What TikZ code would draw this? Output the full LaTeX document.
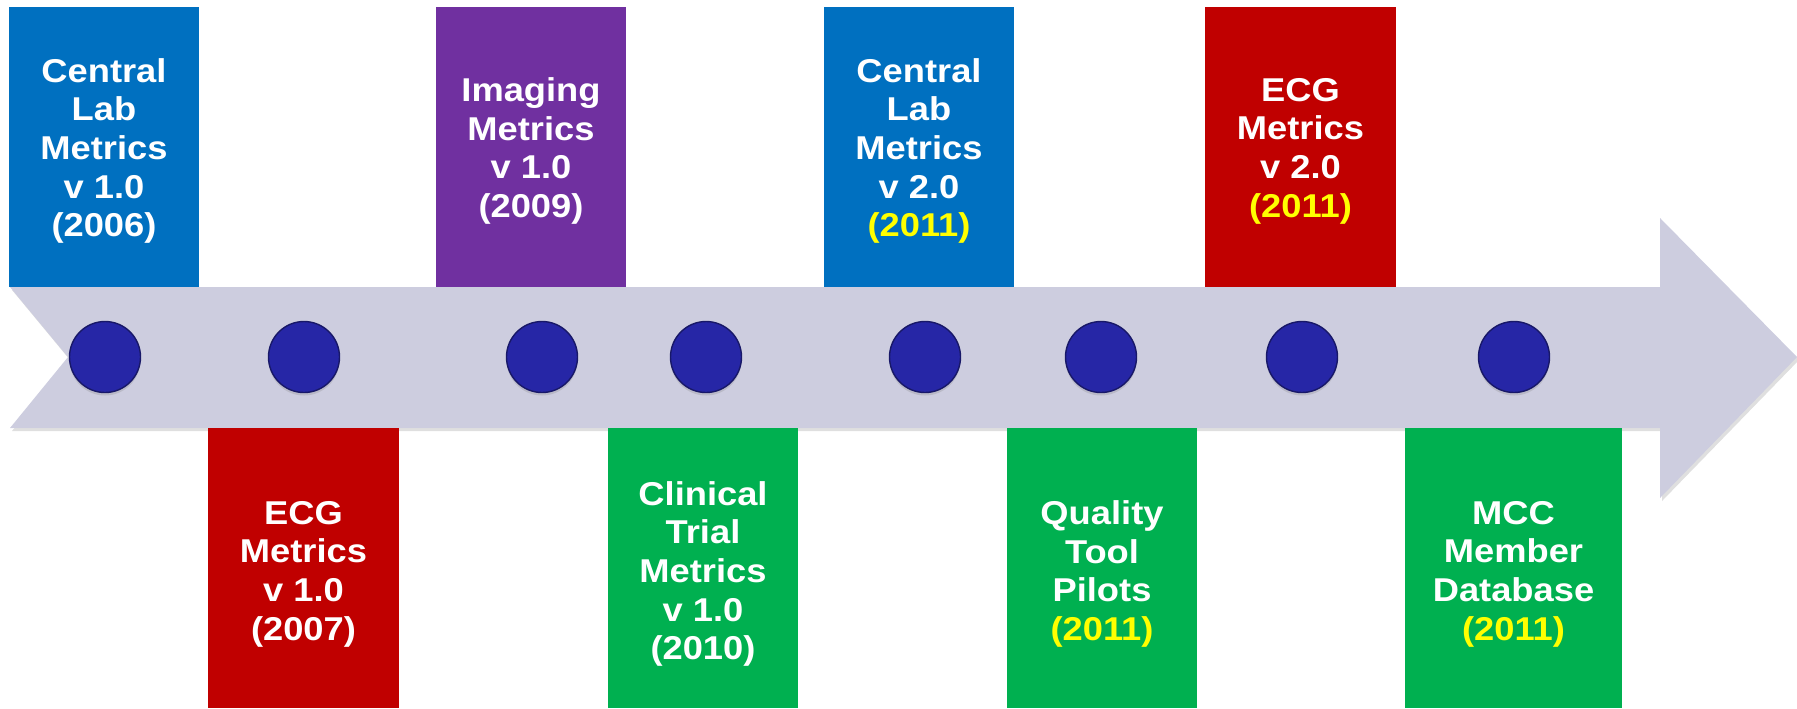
\documentclass[tikz,border=0pt]{standalone}
\usepackage{fontspec}
\setmainfont{Liberation Sans}[FakeStretch=1.1]
\usetikzlibrary{shadows}

\definecolor{labblue}{HTML}{0070C0}
\definecolor{imgpurple}{HTML}{7030A0}
\definecolor{ecgred}{HTML}{C00000}
\definecolor{trialgreen}{HTML}{00B050}
\definecolor{bandgray}{RGB}{205,205,223}
\definecolor{dotblue}{RGB}{38,38,166}
\definecolor{dotrim}{RGB}{24,24,104}
\definecolor{yearyellow}{HTML}{FFFF00}

\newcommand{\yr}[1]{\textcolor{yearyellow}{#1}}

\begin{document}
\begin{tikzpicture}[x=0.5pt, y=-0.5pt,
    milestone/.style={inner sep=0pt, text=white, align=center,
        font=\fontsize{16.5}{19.3}\selectfont\bfseries},
    dot/.style={circle, minimum size=35.5pt, inner sep=0pt, fill=dotblue,
        draw=dotrim, line width=0.7pt,
        drop shadow={shadow xshift=0pt, shadow yshift=-1.5pt, opacity=0.25}}]
    \useasboundingbox (0,0) rectangle (1797,708);

    % Timeline arrow
    \fill[bandgray, drop shadow={shadow xshift=1pt, shadow yshift=-1.5pt, opacity=0.25}]
        (10,287) -- (1660,287) -- (1660,218) -- (1797,357) -- (1660,498)
        -- (1660,428) -- (10,428) -- (68,357) -- cycle;

    % Upper milestones
    \fill[labblue] (9,7) rectangle (199,287);
    \node[milestone] (lab1) at (104,151) {Central\\Lab\\Metrics\\v 1.0\\(2006)};
    \fill[imgpurple] (436,7) rectangle (626,287);
    \node[milestone] (img1) at (531,151) {Imaging\\Metrics\\v 1.0\\(2009)};
    \fill[labblue] (824,7) rectangle (1014,287);
    \node[milestone] (lab2) at (919,151) {Central\\Lab\\Metrics\\v 2.0\\\yr{(2011)}};
    \fill[ecgred] (1205,7) rectangle (1396,287);
    \node[milestone] (ecg2) at (1300.5,151) {ECG\\Metrics\\v 2.0\\\yr{(2011)}};

    % Lower milestones
    \fill[ecgred] (208,428) rectangle (399,708);
    \node[milestone] (ecg1) at (303.5,574) {ECG\\Metrics\\v 1.0\\(2007)};
    \fill[trialgreen] (608,428) rectangle (798,708);
    \node[milestone] (trial1) at (703,574) {Clinical\\Trial\\Metrics\\v 1.0\\(2010)};
    \fill[trialgreen] (1007,428) rectangle (1197,708);
    \node[milestone] (pilots) at (1102,574) {Quality\\Tool\\Pilots\\\yr{(2011)}};
    \fill[trialgreen] (1405,428) rectangle (1622,708);
    \node[milestone] (mcc) at (1513.5,574) {MCC\\Member\\Database\\\yr{(2011)}};

    % Dots
    \node[dot] (dot1) at (105,357) {};
    \node[dot] (dot2) at (304,357) {};
    \node[dot] (dot3) at (542,357) {};
    \node[dot] (dot4) at (706,357) {};
    \node[dot] (dot5) at (925,357) {};
    \node[dot] (dot6) at (1101,357) {};
    \node[dot] (dot7) at (1302,357) {};
    \node[dot] (dot8) at (1514,357) {};
\end{tikzpicture}
\end{document}
